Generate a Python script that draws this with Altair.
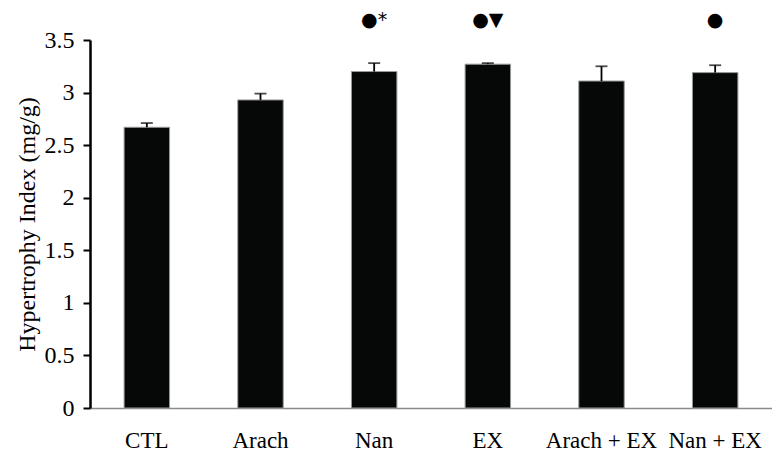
import altair as alt
import pandas as pd

groups = ["CTL", "Arach", "Nan", "EX", "Arach + EX", "Nan + EX"]
means = [2.67, 2.93, 3.20, 3.27, 3.11, 3.19]
errors = [0.04, 0.06, 0.08, 0.01, 0.14, 0.07]
marks = ["", "", "\u25cf*", "\u25cf\u25bc", "", "\u25cf"]

df = pd.DataFrame({"group": groups, "mean": means, "err": errors, "mark": marks})
df["top"] = df["mean"] + df["err"]
df["mark_y"] = 3.69

x = alt.X("group:N", sort=groups, title=None,
          scale=alt.Scale(paddingInner=0.6, paddingOuter=0.3),
          axis=alt.Axis(labelAngle=0, labelFont="Liberation Serif", labelFontSize=23,
                        labelColor="#000", labelPadding=21, ticks=False,
                        domainColor="#8a8a8a", domainWidth=1.5))
y_axis = alt.Axis(values=[0, 0.5, 1, 1.5, 2, 2.5, 3, 3.5], labelExpr="datum.value",
                  labelFont="Liberation Serif", labelFontSize=24, labelColor="#000",
                  grid=False, domainColor="#000", domainWidth=2.5, tickColor="#000",
                  tickWidth=2, tickSize=7, labelPadding=9,
                  title="Hypertrophy Index (mg/g)", titleFont="Liberation Serif",
                  titleFontSize=24, titleFontWeight="normal", titleColor="#000",
                  titlePadding=5)
y = alt.Y("mean:Q", scale=alt.Scale(domain=[0, 3.5], nice=False), axis=y_axis)

bars = alt.Chart(df).mark_bar(color="#060808", stroke="#9a9a9a", strokeWidth=1).encode(x=x, y=y)
err_line = alt.Chart(df).mark_rule(color="#000", strokeWidth=1.8).encode(
    x=alt.X("group:N", sort=groups), y="mean:Q", y2="top:Q")
err_cap = alt.Chart(df).mark_tick(color="#000", thickness=1.8, size=12, orient="horizontal").encode(
    x=alt.X("group:N", sort=groups), y="top:Q")
ann = alt.Chart(df).mark_text(font="DejaVu Sans", fontSize=19, color="#000", baseline="middle").encode(
    x=alt.X("group:N", sort=groups), y="mark_y:Q", text="mark:N")

chart = alt.layer(bars, err_line, err_cap, ann).properties(
    width=682, height=368,
    autosize=alt.AutoSizeParams(type="none"),
    padding={"left": 82, "top": 32, "right": 0, "bottom": 55},
).configure_view(stroke=None)

chart.save("out.html", embed_options={"renderer": "svg", "actions": False})
